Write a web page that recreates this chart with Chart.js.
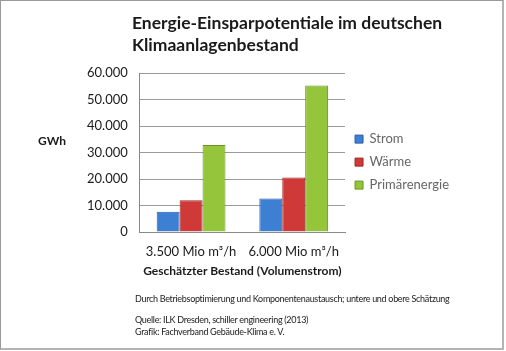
<!DOCTYPE html>
<html>
<head>
<meta charset="utf-8">
<script src="https://cdn.jsdelivr.net/npm/chart.js@4/dist/chart.umd.min.js"></script>
<style>
  html, body { margin: 0; padding: 0; background: #fff; }
  #wrap { position: relative; width: 506px; height: 351px; font-family: Lato, "Open Sans", sans-serif; color: #1a1a1a; }
  #frame { position: absolute; left: 0; top: 0; width: 501px; height: 347px; border-left: 1px solid #9a9a9a; border-top: 1px solid #9a9a9a; border-right: 2px solid #b4b4b4; border-bottom: 2px solid #b4b4b4; }
  #chart { position: absolute; left: 0; top: 0; }
  .t { position: absolute; white-space: nowrap; }
  #title { left: 132px; top: 12px; font-size: 17.5px; font-weight: bold; line-height: 22px; }
  #unit { left: 38px; top: 133px; font-size: 12px; font-weight: bold; }
  .foot { font-size: 9px; letter-spacing: -0.3px; }
</style>
</head>
<body>
<div id="wrap">
  <div id="frame"></div>
  <canvas id="chart" width="506" height="351"></canvas>
  <div class="t" id="title">Energie-Einsparpotentiale im deutschen<br>Klimaanlagenbestand</div>
  <div class="t" id="unit">GWh</div>
  <div class="t foot" style="left:135px; top:293px;">Durch Betriebsoptimierung und Komponentenaustausch; untere und obere Schätzung</div>
  <div class="t foot" style="left:135px; top:314px;">Quelle: ILK Dresden, schiller engineering (2013)</div>
  <div class="t foot" style="left:135px; top:326px;">Grafik: Fachverband Gebäude-Klima e. V.</div>
</div>
<script>
    // Daten
    var categories = ["3.500 Mio m³/h", "6.000 Mio m³/h"];
    var seriesNames = ["Strom", "Wärme", "Primärenergie"];
    var strom = [7600, 12600];
    var waerme = [12000, 20600];
    var primaer = [32800, 55300];
    var yTicks = [0, 10000, 20000, 30000, 40000, 50000, 60000];

    var colors = [
        { light: '#6aa6ea', mid: '#3d7fd3', dark: '#2a5ea6' },
        { light: '#ec6a68', mid: '#cf3a38', dark: '#9c2826' },
        { light: '#b8e060', mid: '#95c53a', dark: '#6b9424' }
    ];

    function fmt(v) {
        return String(v).replace(/\B(?=(\d{3})+(?!\d))/g, '.');
    }

    function barFill(c) {
        return function (ctx) {
            var el = ctx.element;
            if (!el || el.width == null || isNaN(el.x)) return c.mid;
            var x0 = el.x - el.width / 2, x1 = el.x + el.width / 2;
            var g = ctx.chart.ctx.createLinearGradient(x0, 0, x1, 0);
            g.addColorStop(0, c.mid);
            g.addColorStop(0.35, c.light);
            g.addColorStop(0.7, c.mid);
            g.addColorStop(1, c.dark);
            return g;
        };
    }

    var seriesData = [strom, waerme, primaer];
    var datasets = seriesNames.map(function (name, i) {
        return {
            label: name,
            data: seriesData[i],
            backgroundColor: barFill(colors[i]),
            borderColor: colors[i].dark,
            borderWidth: 1,
            borderSkipped: 'bottom',
            categoryPercentage: 0.67,
            barPercentage: 1
        };
    });

    var ctx = document.getElementById('chart').getContext('2d');
    new Chart(ctx, {
        type: 'bar',
        data: { labels: categories, datasets: datasets },
        options: {
            responsive: false,
            animation: false,
            layout: { padding: { left: 75, top: 73, right: 47, bottom: 69 } },
            plugins: {
                title: { display: false },
                tooltip: { enabled: false },
                legend: {
                    position: 'right',
                    align: 'start',
                    maxWidth: 160,
                    title: { display: true, text: ' ', padding: 17, font: { size: 13 } },
                    labels: {
                        boxWidth: 8,
                        boxHeight: 8,
                        padding: 10,
                        color: '#1a1a1a',
                        font: { family: 'Lato', size: 13 },
                        generateLabels: function (chart) {
                            return seriesNames.map(function (n, i) {
                                return {
                                    text: n,
                                    fillStyle: colors[i].mid,
                                    strokeStyle: colors[i].dark,
                                    lineWidth: 1,
                                    datasetIndex: i
                                };
                            });
                        }
                    }
                }
            },
            scales: {
                x: {
                    grid: { display: false },
                    border: { color: '#888' },
                    ticks: { color: '#1a1a1a', font: { family: 'Lato', size: 13 }, padding: 4 },
                    title: {
                        display: true,
                        text: 'Geschätzter Bestand (Volumenstrom)',
                        color: '#1a1a1a',
                        font: { family: 'Lato', size: 12, weight: 'bold' },
                        padding: { top: 0 }
                    }
                },
                y: {
                    min: 0,
                    max: 60000,
                    afterBuildTicks: function (axis) {
                        axis.ticks = yTicks.map(function (v) { return { value: v }; });
                    },
                    grid: { color: '#9a9a9a', drawTicks: false },
                    border: { color: '#888' },
                    ticks: {
                        color: '#1a1a1a',
                        font: { family: 'Lato', size: 13 },
                        padding: 12,
                        callback: function (v) { return fmt(v); }
                    }
                }
            }
        }
    });
</script>
</body>
</html>
